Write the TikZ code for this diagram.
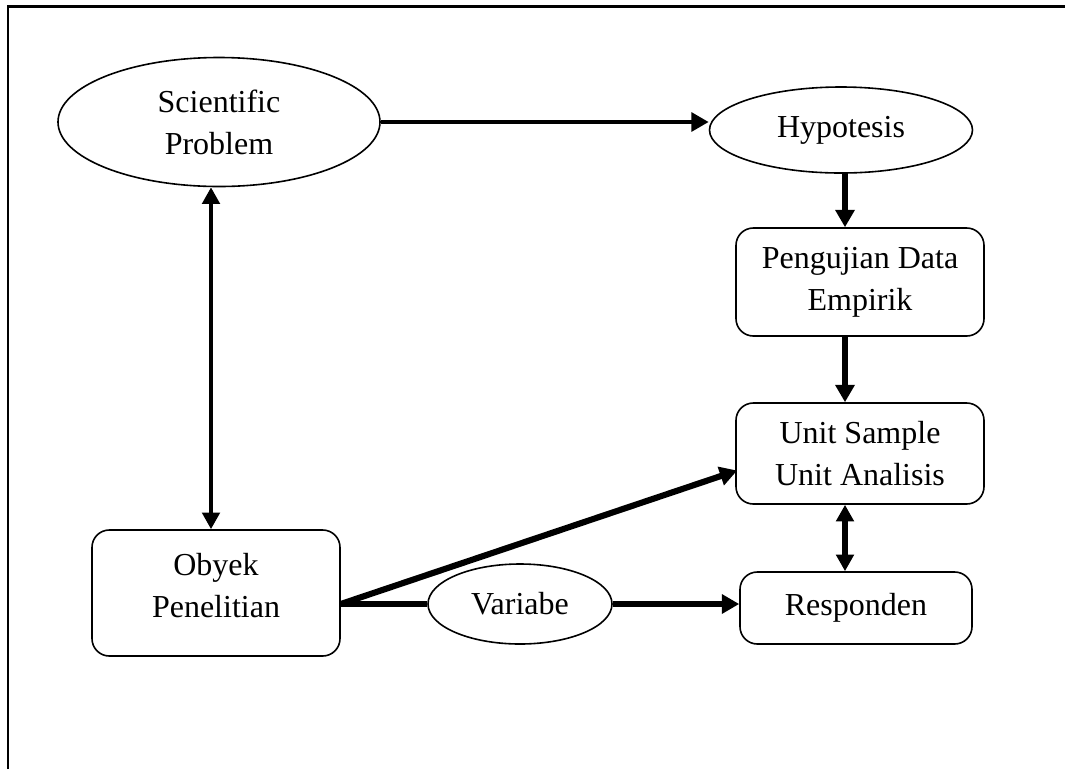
\documentclass[tikz,border=0pt]{standalone}
\usepackage{fontspec}
\setmainfont{Liberation Serif}
\usetikzlibrary{shapes.geometric,arrows.meta,calc}
\begin{document}
\begin{tikzpicture}[x=0.75pt,y=-0.75pt,
  txt/.style={font=\fontsize{24}{31.5}\selectfont, align=center, inner sep=0pt},
  ell/.style={txt, draw, ellipse, line width=1.2pt},
  rbox/.style={txt, draw, rectangle, rounded corners=13pt, line width=1.2pt},
  tipa/.style={-{Triangle[length=13pt,width=14pt]}},
  tipb/.style={{Triangle[length=12.5pt,width=13pt]}-{Triangle[length=12.5pt,width=13pt]}},
  thin/.style={line width=3pt},
  mid/.style={line width=4.2pt},
  fat/.style={line width=4.6pt}
]
\useasboundingbox (0,0) rectangle (1065,769);
\draw[line width=1.8pt] (8,769) -- (8,6.5) -- (1065,6.5);

\node[ell, minimum width=241.5pt, minimum height=96.75pt] (sp) at (219,122) {Scientific\\Problem};
\node[ell, minimum width=197.25pt, minimum height=64.5pt] (hyp) at (841,130) {Hypotesis};
\node[rbox, minimum width=186pt, minimum height=81pt] (peng) at (860,282) {Pengujian Data\\Empirik};
\node[rbox, minimum width=186pt, minimum height=75.75pt] (unit) at (860,453.5) {Unit Sample\\Unit Analisis};
\node[rbox, minimum width=174pt, minimum height=54pt] (resp) at (856,608) {Responden};
\node[rbox, minimum width=186pt, minimum height=94.5pt, text depth=12pt] (oby) at (216,593) {Obyek\\Penelitian};
\node[ell, minimum width=138pt, minimum height=60pt] (var) at (520,604) {Variabe};

\coordinate (vx) at (845,0);
\coordinate (ax) at (211,0);
\coordinate (oe) at (oby.east |- var.west);
\coordinate (ue) at ($(unit.west)+(2,17)$);

\draw[thin, tipa] (sp.east) -- (hyp.west |- sp.east);
\draw[mid, tipa] (hyp.south -| vx) -- (peng.north -| vx);
\draw[mid, tipa] (peng.south -| vx) -- (unit.north -| vx);
\draw[mid, tipb] (unit.south -| vx) -- (resp.north -| vx);
\draw[thin, tipb] (sp.south -| ax) -- (oby.north -| ax);
\draw[fat, tipa] (oe) -- (ue);
\draw[fat] (oe) -- (var.west);
\draw[fat, tipa] (var.east) -- (resp.west |- var.east);
\end{tikzpicture}
\end{document}
